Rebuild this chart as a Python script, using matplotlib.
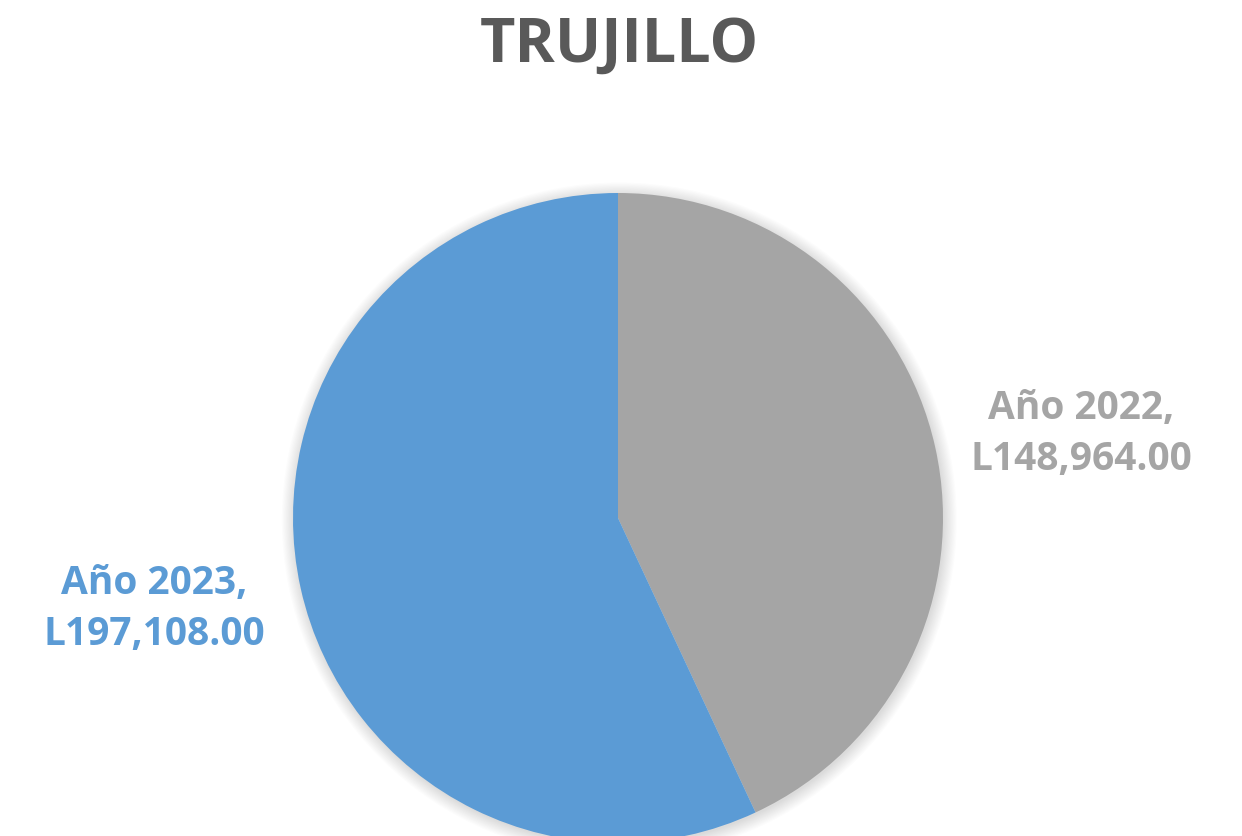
import numpy as np
import matplotlib.pyplot as plt
from matplotlib.patches import Circle

# data
labels = ['Año 2022', 'Año 2023']
values = [148964.00, 197108.00]
colors = ['#A5A5A5', '#5B9BD5']
title = 'TRUJILLO'

plt.rcParams['font.family'] = ['Open Sans', 'DejaVu Sans']

W, H = 1242, 836
fig = plt.figure(figsize=(W / 100, H / 100), dpi=100)
fig.patch.set_facecolor('white')

# pie centre and radius in pixels
cx, cy, r = 618, 518, 325
ax = fig.add_axes([(cx - r) / W, (H - cy - r) / H, 2 * r / W, 2 * r / H])
ax.set_xlim(-1, 1)
ax.set_ylim(-1, 1)
ax.set_aspect('equal')
ax.axis('off')

# soft shadow round the pie
for k in range(12):
    ax.add_patch(Circle((0.004, -0.006), 1.0 + k * 0.0035, color='black',
                        alpha=0.012, lw=0, zorder=0, clip_on=False))

wedges, _ = ax.pie(values, colors=colors, startangle=90, counterclock=False,
                   radius=1.0, wedgeprops=dict(linewidth=0))
for w in wedges:
    w.set_zorder(2)
    w.set_clip_on(False)
ax.set_xlim(-1, 1)
ax.set_ylim(-1, 1)

fig.text(619 / W, 1 - 46 / H, title, ha='center', va='center',
         fontsize=44, fontweight='bold', color='#595959')

# data labels
label_pos = [(1081, 434), (154, 609)]
for lab, val, col, (px, py) in zip(labels, values, colors, label_pos):
    fig.text(px / W, 1 - py / H, f'{lab},\nL{val:,.2f}', ha='center', va='center',
             fontsize=28, fontweight='bold', color=col, linespacing=1.38)

fig.savefig('out.png', dpi=100)
